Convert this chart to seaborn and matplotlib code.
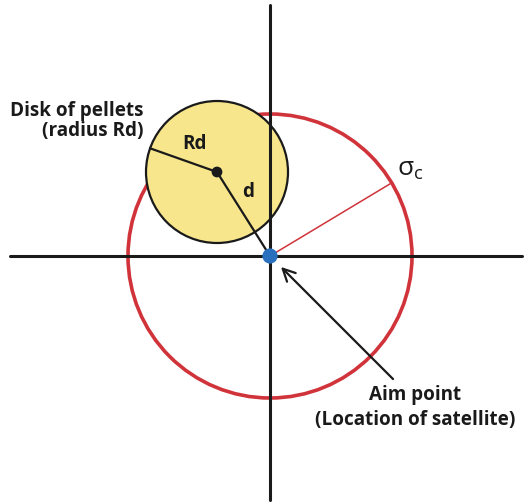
import numpy as np
import pandas as pd
import matplotlib
matplotlib.use('Agg')
import matplotlib.pyplot as plt
import seaborn as sns
from matplotlib.patches import Circle

# geometry of the diagram, in pixels measured from the aim point (y up)
aim_point = [0, 0]
sigma_c = 142
disk_center = [-53, 84]
disk_radius = 71
rd_angle_deg = 160.5
sigma_angle_deg = 31
axis_x_span = [-260, 252]
axis_y_span = [-244, 251]
arrow_tail = [125, -125]
arrow_head = [9, -9]

disk_label = ['Disk of pellets', '(radius Rd)']
aim_label = ['Aim point', '(Location of satellite)']

RED = '#d0343a'
YELLOW = '#f7e68c'
BLUE = '#2b6fbf'
INK = '#1a1a1a'

sns.set_theme(style='white')
plt.rcParams['font.family'] = ['Open Sans', 'DejaVu Sans']
plt.rcParams['mathtext.fontset'] = 'dejavusans'

fig = plt.figure(figsize=(5.29, 5.04), dpi=100)
ax = fig.add_axes([0, 0, 1, 1])
ax.set_xlim(-270, 259)
ax.set_ylim(-248, 256)
ax.set_aspect('equal')
ax.axis('off')

# red sigma_c circle and the yellow disk of pellets
ax.add_patch(Circle(aim_point, sigma_c, fill=False, edgecolor=RED, lw=2.6, zorder=1))
ax.add_patch(Circle(disk_center, disk_radius, facecolor=YELLOW, edgecolor=INK, lw=1.6, zorder=2))

# coordinate axes
axes_df = pd.DataFrame({'x': axis_x_span, 'y': [0, 0]})
sns.lineplot(data=axes_df, x='x', y='y', color=INK, lw=2.2, ax=ax, zorder=3,
             sort=False, estimator=None)
axes_df = pd.DataFrame({'x': [0, 0], 'y': axis_y_span})
sns.lineplot(data=axes_df, x='x', y='y', color=INK, lw=2.2, ax=ax, zorder=3,
             sort=False, estimator=None, orient='y')

# radius Rd and distance d
rd_end = [disk_center[0] + disk_radius * np.cos(np.radians(rd_angle_deg)),
          disk_center[1] + disk_radius * np.sin(np.radians(rd_angle_deg))]
ax.plot([disk_center[0], rd_end[0]], [disk_center[1], rd_end[1]], color=INK, lw=1.6, zorder=4)
ax.plot([disk_center[0], aim_point[0]], [disk_center[1], aim_point[1]], color=INK, lw=1.6, zorder=4)

# sigma_c radius
sig_end = [sigma_c * np.cos(np.radians(sigma_angle_deg)), sigma_c * np.sin(np.radians(sigma_angle_deg))]
ax.plot([0, sig_end[0]], [0, sig_end[1]], color=RED, lw=1.1, zorder=1)

# points
sns.scatterplot(x=[disk_center[0]], y=[disk_center[1]], color=INK, s=60, ax=ax, zorder=5, edgecolor='none')
sns.scatterplot(x=[aim_point[0]], y=[aim_point[1]], color=BLUE, s=120, ax=ax, zorder=6, edgecolor='none')

# arrow to the aim point
ax.annotate('', xy=arrow_head, xytext=arrow_tail,
            arrowprops=dict(arrowstyle='->', color=INK, lw=1.6, mutation_scale=22), zorder=5)

txt = dict(color=INK, fontsize=13.6, fontweight='bold')
ax.text(-126, 145, disk_label[0], ha='right', va='center', **txt)
ax.text(-126, 125, disk_label[1], ha='right', va='center', **txt)
ax.text(145, -139, aim_label[0], ha='center', va='center', **txt)
ax.text(145, -164, aim_label[1], ha='center', va='center', **txt)
ax.text(-75, 112, 'Rd', ha='center', va='center', **txt)
ax.text(-22, 64, 'd', ha='center', va='center', **txt)
ax.text(140, 86, r'$\mathregular{\sigma_c}$', ha='center', va='center', color=INK, fontsize=19)

fig.savefig('out.png', dpi=100)
